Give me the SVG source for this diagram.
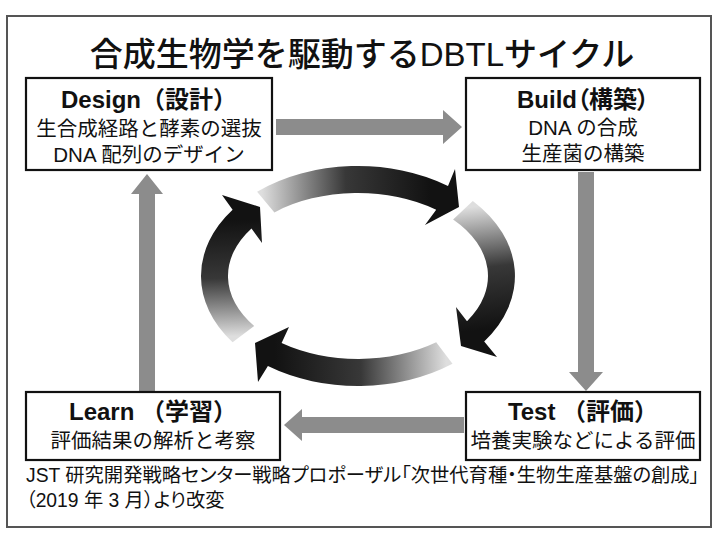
<svg xmlns="http://www.w3.org/2000/svg" width="715" height="533" viewBox="0 0 715 533">
  <style>
    .frame { fill: #fff; stroke: #555; stroke-width: 2; }
    .box { fill: #fff; stroke: #111; stroke-width: 2.2; }
    .t { font-family: "Liberation Sans", "Noto Sans CJK JP", sans-serif; fill: #111; }
    .hd { font-weight: bold; font-size: 24px; text-anchor: middle; }
    .tx { font-size: 20.5px; text-anchor: middle; }
    .palt { font-feature-settings: "palt" 1; }
    .garrow { fill: #8c8c8c; }
  </style>
  <defs>
    <linearGradient id="g1" gradientUnits="userSpaceOnUse" x1="262" y1="200" x2="430" y2="196">
      <stop offset="0" stop-color="#dedede"/>
      <stop offset="0.25" stop-color="#8a8a8a"/>
      <stop offset="0.5" stop-color="#383838"/>
      <stop offset="1" stop-color="#121212"/>
    </linearGradient>
    <linearGradient id="g2" gradientUnits="userSpaceOnUse" x1="465" y1="208" x2="480" y2="330">
      <stop offset="0" stop-color="#dedede"/>
      <stop offset="0.25" stop-color="#8a8a8a"/>
      <stop offset="0.5" stop-color="#383838"/>
      <stop offset="1" stop-color="#121212"/>
    </linearGradient>
    <linearGradient id="g3" gradientUnits="userSpaceOnUse" x1="446" y1="352" x2="275" y2="356">
      <stop offset="0" stop-color="#dedede"/>
      <stop offset="0.25" stop-color="#8a8a8a"/>
      <stop offset="0.5" stop-color="#383838"/>
      <stop offset="1" stop-color="#121212"/>
    </linearGradient>
    <linearGradient id="g4" gradientUnits="userSpaceOnUse" x1="243" y1="336" x2="240" y2="220">
      <stop offset="0" stop-color="#dedede"/>
      <stop offset="0.25" stop-color="#8a8a8a"/>
      <stop offset="0.5" stop-color="#383838"/>
      <stop offset="1" stop-color="#121212"/>
    </linearGradient>
  </defs>

  <rect x="0" y="0" width="715" height="533" fill="#fff"/>
  <rect class="frame" x="7" y="16" width="704" height="511"/>

  <text class="t" x="362" y="66" font-size="33" font-weight="500" text-anchor="middle">合成生物学を駆動するDBTLサイクル</text>

  <g id="connectors">
    <polygon class="garrow" points="276,119 443,119 443,110 462,127 443,144 443,135 276,135"/>
    <polygon class="garrow" points="578,172 594,172 594,372 603,372 586,391 569,372 578,372"/>
    <polygon class="garrow" points="464,417 302,417 302,409 284,425 302,441 302,433 464,433"/>
    <polygon class="garrow" points="139,392 139,194 131,194 147,174 163,194 155,194 155,392"/>
  </g>

  <g id="cycle">
    <path fill="url(#g1)" d="M257.1,191.7 A157,110 0 0 1 448.0,185.9 L455,169 L459,207 L425,225 L436.2,209.7 A130,83 0 0 0 274.4,212.4 Z"/>
    <path fill="url(#g2)" d="M472.8,201.0 A157,110 0 0 1 484.2,341.4 L497,357 L461,346 L456,307 L467.0,321.2 A130,83 0 0 0 453.1,219.4 Z"/>
    <path fill="url(#g3)" d="M452.5,363.8 A157,110 0 0 1 267.9,366.1 L258,382 L255,343 L289,327 L281.6,343.1 A130,83 0 0 0 436.2,342.3 Z"/>
    <path fill="url(#g4)" d="M232.6,342.2 A157,110 0 0 1 232.6,209.8 L222,195 L260,207 L262,243 L251.5,228.4 A130,83 0 0 0 254.2,326.0 Z"/>
  </g>

  <g id="design">
    <rect class="box" x="26" y="78" width="246" height="92"/>
    <text class="t hd" x="149" y="108">Design（設計）</text>
    <text class="t tx" x="149" y="136">生合成経路と酵素の選抜</text>
    <text class="t tx" x="149" y="162">DNA 配列のデザイン</text>
  </g>

  <g id="build">
    <rect class="box" x="466" y="78" width="234" height="92"/>
    <text class="t hd palt" x="583" y="108">Build（構築）</text>
    <text class="t tx" x="583" y="135">DNA の合成</text>
    <text class="t tx" x="583" y="161">生産菌の構築</text>
  </g>

  <g id="learn">
    <rect class="box" x="26" y="392" width="254" height="68"/>
    <text class="t hd" x="153" y="420">Learn （学習）</text>
    <text class="t tx" x="153" y="448" font-size="21">評価結果の解析と考察</text>
  </g>

  <g id="test">
    <rect class="box" x="466" y="392" width="234" height="68"/>
    <text class="t hd" x="583" y="420">Test （評価）</text>
    <text class="t tx" x="583" y="448">培養実験などによる評価</text>
  </g>

  <text class="t palt" x="26" y="482" font-size="19.3">JST 研究開発戦略センター戦略プロポーザル「次世代育種・生物生産基盤の創成」</text>
  <text class="t palt" x="26" y="507" font-size="19.3">（2019 年 3 月）より改変</text>
</svg>
